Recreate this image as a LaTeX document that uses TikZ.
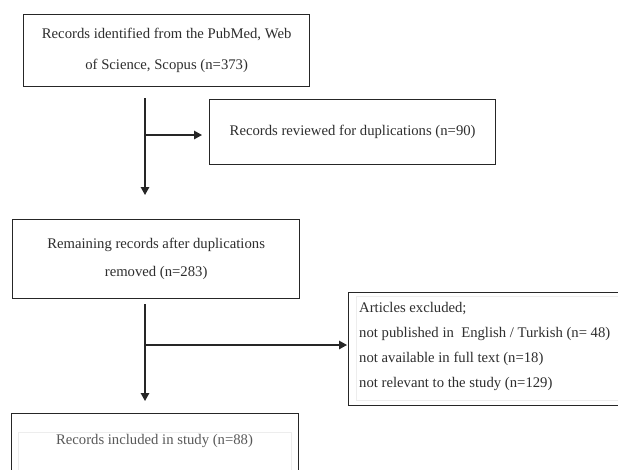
\documentclass[tikz,border=0pt]{standalone}
\usepackage{fontspec}
\setmainfont{Liberation Serif}
\usetikzlibrary{arrows.meta}
\definecolor{ink}{HTML}{262626}
\definecolor{txt}{HTML}{2E2E2E}
\begin{document}
\begin{tikzpicture}[x=1pt,y=-1pt,
  box/.style={draw=ink, line width=1.3pt, anchor=north west, inner sep=0pt, text=txt,
     font=\fontsize{14.7}{31}\selectfont, align=center},
  faint/.style={draw=black!7, line width=0.6pt, anchor=north west, inner sep=0pt},
  arr/.style={draw=ink, line width=1.4pt, -{Triangle[length=8pt,width=8.5pt]}},
  lbl/.style={text=txt, inner sep=0pt}]
\clip (0,0) rectangle (618,469);
\fill[white] (0,0) rectangle (618,469);

\node[box, minimum width=286pt, minimum height=72pt] (b1) at (23,14)
  {Records identified from the PubMed, Web\\of Science, Scopus (n=373)};
\node[box, minimum width=286pt, minimum height=65pt] (b2) at (209,99)
  {\raisebox{3pt}{Records reviewed for duplications (n=90)}};
\node[box, minimum width=287pt, minimum height=79pt, font=\fontsize{14.7}{28}\selectfont] (b3) at (12,219)
  {Remaining records after duplications\\removed (n=283)};
\node[box, minimum width=300pt, minimum height=113pt] (b4) at (348,292) {};
\node[faint, minimum width=300pt, minimum height=104pt] (b4in) at (356,296) {};
\node[lbl, anchor=north west, align=left, font=\fontsize{14.7}{25}\selectfont] (t4) at (359,302)
  {Articles excluded;\\
   not published in\ \ English / Turkish (n= 48)\\
   not available in full text (n=18)\\
   not relevant to the study (n=129)};
\node[box, minimum width=287pt, minimum height=70pt] (b5) at (11,413) {};
\node[faint, minimum width=273pt, minimum height=60pt] (b5in) at (18,432) {};
\node[lbl, text=black!65, font=\fontsize{14.7}{18}\selectfont] (t5) at (154.5,441)
  {Records included in study (n=88)};

\coordinate (s1) at (145,98);
\coordinate (e1) at (145,195);
\coordinate (j1) at (145,135);
\coordinate (k1) at (202,135);
\coordinate (s2) at (145,304);
\coordinate (e2) at (145,401);
\coordinate (j2) at (145,345);
\coordinate (k2) at (347,345);

\draw[arr] (s1) -- (e1);
\draw[arr] (j1) -- (k1);
\draw[arr] (s2) -- (e2);
\draw[arr] (j2) -- (k2);
\end{tikzpicture}
\end{document}
